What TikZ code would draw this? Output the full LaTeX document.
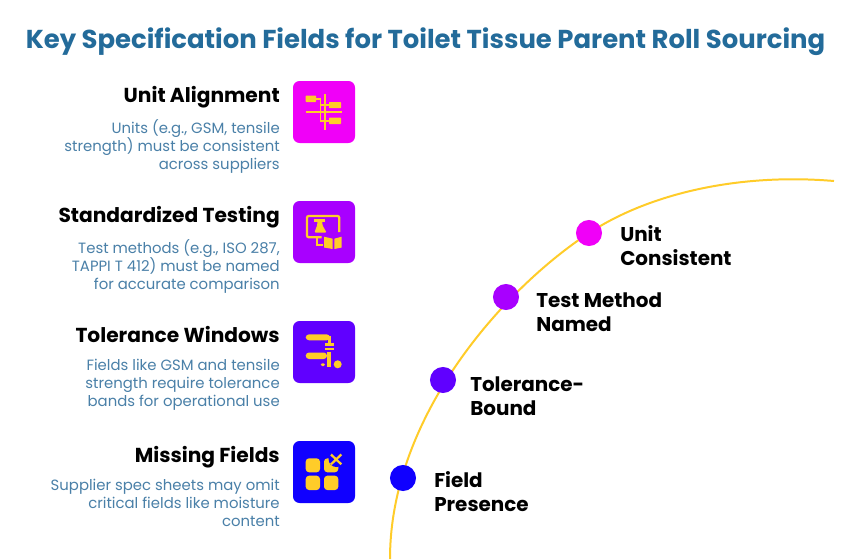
\documentclass[tikz,border=0pt]{standalone}
\usepackage{fontspec}
\setmainfont{Poppins}
\definecolor{titleblue}{HTML}{236B9A}
\definecolor{bodyblue}{HTML}{4A80A8}
\definecolor{gold}{HTML}{FFCC29}
\definecolor{cA}{HTML}{F000F8}
\definecolor{cB}{HTML}{A800FF}
\definecolor{cC}{HTML}{6000FF}
\definecolor{cD}{HTML}{1000FF}
\tikzset{
  x=0.0264583cm,y=-0.0264583cm,
  titletext/.style={inner sep=0,anchor=base,text=titleblue,font=\fontsize{19.5}{24}\selectfont\bfseries},
  headtext/.style={inner sep=0,anchor=base east,font=\fontsize{15.2}{18}\selectfont\bfseries,text=black},
  bodytext/.style={inner sep=0,anchor=north east,align=right,text=bodyblue,font=\fontsize{11.2}{13.5}\selectfont},
  arcline/.style={draw=gold,line width=1.5pt},
  dotnode/.style={circle,minimum size=6.9mm,inner sep=0},
  steptext/.style={inner sep=0,anchor=west,align=left,font=\fontsize{15}{18}\selectfont\bfseries,text=black},
  ico/.style={draw=gold,line width=1.5pt},
}
\begin{document}
\begin{tikzpicture}
\useasboundingbox (0,0) rectangle (858,559);
\fill[white] (0,0) rectangle (858,559);
\node[titletext] (title) at (425.5,48) {Key Specification Fields for Toilet Tissue Parent Roll Sourcing};

\draw[arcline] (390,559) .. controls (390,415) and (505,288) .. (589,233) .. controls (650,193) and (740,173) .. (834,181);

\node[dotnode,fill=cA] (d1) at (589,233) {};
\node[dotnode,fill=cB] (d2) at (506,297) {};
\node[dotnode,fill=cC] (d3) at (443,380) {};
\node[dotnode,fill=cD] (d4) at (403,478) {};
\node[steptext] (s1) at (620,245.5) {Unit\\Consistent};
\node[steptext] (s2) at (536,312) {Test Method\\Named};
\node[steptext] (s3) at (470,396) {Tolerance-\\Bound};
\node[steptext] (s4) at (434,491.5) {Field\\Presence};

\node[headtext] (h1) at (280,102) {Unit Alignment};
\node[bodytext] (b1) at (280,119) {Units (e.g., GSM, tensile\\strength) must be consistent\\across suppliers};
\node[headtext] (h2) at (280,222) {Standardized Testing};
\node[bodytext] (b2) at (280,239) {Test methods (e.g., ISO 287,\\TAPPI T 412) must be named\\for accurate comparison};
\node[headtext] (h3) at (280,342) {Tolerance Windows};
\node[bodytext] (b3) at (280,359) {Fields like GSM and tensile\\strength require tolerance\\bands for operational use};
\node[headtext] (h4) at (280,462) {Missing Fields};
\node[bodytext] (b4) at (280,479) {Supplier spec sheets may omit\\critical fields like moisture\\content};

% tiles
\fill[cA,rounded corners=5pt] (293,81) rectangle (355,143);
\fill[cB,rounded corners=5pt] (293,201) rectangle (355,263);
\fill[cC,rounded corners=5pt] (293,321) rectangle (355,383);
\fill[cD,rounded corners=5pt] (293,441) rectangle (355,503);

% icon 1
\fill[gold,rounded corners=.5pt] (305.7,95.5) rectangle (316,102);
\fill[gold,rounded corners=.5pt] (329,102) rectangle (341,108.2);
\fill[gold,rounded corners=.5pt] (329,117.7) rectangle (341,124);
\draw[ico] (305.7,111.7) -- (341.7,111.7);
\draw[ico] (325,94) -- (325,130);
\draw[ico] (316,98.7) -- (320.5,98.7) -- (320.5,120.8) -- (329,120.8);
\draw[ico] (320.5,105) -- (329,105);

% icon 2
\draw[gold,line width=1.7pt,rounded corners=1.5pt] (321.7,237.3) -- (306.9,237.3) -- (306.9,215.9) -- (339.3,215.9) -- (339.3,232);
\draw[gold,line width=1.7pt] (317.3,237.3) -- (317.3,245) -- (322.7,245);
\fill[gold] (314.3,219) rectangle (325,221.7);
\fill[gold,rounded corners=1pt] (317.3,221) -- (322.3,221) -- (322.3,225) -- (326.7,232.7) -- (314.3,232.7) -- (317.3,225) -- cycle;
\fill[gold] (324,236.7) -- (332.7,238.7) -- (332.7,249) -- (324,247.5) -- cycle;
\fill[gold] (334.3,238.7) -- (341.7,236.7) -- (341.7,247.5) -- (334.3,249) -- cycle;

% icon 3
\fill[gold,rounded corners=2.5pt] (305.7,334.3) rectangle (330,340.3);
\fill[gold] (328.3,336) rectangle (330.7,343.3);
\fill[gold] (325,343.3) rectangle (334,345.7);
\fill[gold] (325,347.7) rectangle (334,350);
\fill[gold,rounded corners=2.5pt] (305.7,352.5) rectangle (327,359);
\fill[gold] (327.3,352) rectangle (330.7,366.7);
\fill[gold,rounded corners=1pt] (320.7,363.3) rectangle (325,366);
\fill[gold] (337.7,364.3) circle (4);

% icon 4
\fill[gold,rounded corners=2.5pt] (305.7,458.3) rectangle (320,472.3);
\fill[gold,rounded corners=2.5pt] (305.7,475.7) rectangle (320,490);
\fill[gold,rounded corners=2.5pt] (324,475.7) rectangle (338.3,490);
\fill[gold,rounded corners=2.5pt] (324,458.3) rectangle (338.3,472.3);
\fill[cD] (336.5,459) circle (8);
\draw[gold,line width=1.7pt] (331,454.5) -- (341.3,464.3) (341.3,454.5) -- (331,464.3);
\end{tikzpicture}
\end{document}
